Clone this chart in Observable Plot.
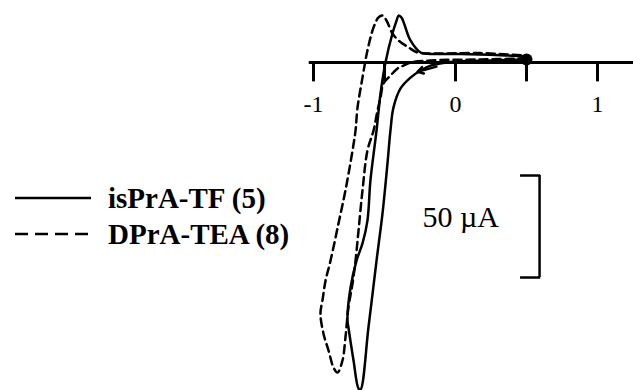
<!DOCTYPE html>
<html>
<head>
<meta charset="utf-8">
<script src="https://cdn.jsdelivr.net/npm/d3@7"></script>
<script src="https://cdn.jsdelivr.net/npm/@observablehq/plot@0.6"></script>
<style>
  body { margin: 0; background: #fff; }
  #wrap { position: relative; width: 633px; height: 390px; overflow: hidden; }
  #legend { position: absolute; left: 15px; top: 180px; font-weight: bold; font-size: 29px; line-height: 36px; }
  #legend div { display: flex; align-items: center; white-space: nowrap; }
  #legend svg { margin-right: 17px; }
</style>
</head>
<body>
<div id="wrap">
  <div id="chart"></div>
  <div id="legend"></div>
</div>
<script>
// Series names
const seriesNames = ["isPrA-TF (5)", "DPrA-TEA (8)"];
const seriesDash = ["none", "8,5"];

// isPrA-TF (5): potential (V) and current (µA), cyclic voltammogram loop
const solidE = [0.50, 0.25, 0.00, -0.07, -0.176, -0.246, -0.317, -0.387, -0.437, -0.458, -0.479, -0.514, -0.556, -0.613, -0.669, -0.683, -0.718, -0.754, -0.761, -0.739, -0.697, -0.655, -0.620, -0.599, -0.556, -0.528, -0.493, -0.444, -0.415, -0.401, -0.380, -0.359, -0.317, -0.246, -0.176, 0.035, 0.317, 0.50];
const solidI = [1.5, 1.0, 0.5, 0.0, -1.5, -3.9, -7.4, -12.7, -22.1, -33.3, -49.5, -74.0, -97.1, -129.9, -160.3, -159.8, -146.1, -129.9, -126.5, -110.3, -97.1, -88.7, -77.5, -57.8, -33.3, -15.2, 0.0, 14.2, 20.5, 23.0, 22.0, 18.5, 10.8, 4.9, 4.2, 4.2, 3.6, 2.9];

// DPrA-TEA (8)
const dashE = [0.50, 0.176, -0.176, -0.317, -0.366, -0.408, -0.458, -0.507, -0.528, -0.549, -0.577, -0.620, -0.655, -0.683, -0.704, -0.725, -0.754, -0.775, -0.796, -0.831, -0.859, -0.894, -0.930, -0.951, -0.937, -0.915, -0.880, -0.824, -0.775, -0.725, -0.704, -0.690, -0.655, -0.620, -0.577, -0.542, -0.514, -0.486, -0.444, -0.401, -0.331, -0.268, -0.176, 0.176, 0.50];
const dashI = [2.0, 1.5, 1.0, 0.0, -1.5, -2.9, -6.4, -10.3, -17.2, -23.5, -33.3, -43.1, -62.7, -82.4, -97.1, -108.3, -120.1, -134.8, -146.1, -152.0, -149.5, -141.2, -132.8, -123.0, -116.7, -106.9, -97.1, -78.9, -62.7, -43.1, -33.3, -22.1, -7.4, 5.9, 17.2, 22.1, 23.0, 20.6, 14.2, 10.8, 7.4, 4.9, 4.4, 4.6, 3.4];

// axis ticks and labels
const tickValues = [-1, -0.5, 0, 0.5, 1];
const tickLabels = [-1, 0, 1];
const axisStart = -1.03;
const axisEnd = 1.26;
const tickLength = 9.5; // µA units below axis

// start point marker
const startE = [0.5];
const startI = [1.5];

// scan-direction arrow
const arrowFrom = {E: -0.134, I: -2.0};
const arrowTo = {E: -0.268, I: -4.6};

// scale bar: 50 µA
const scaleValue = 50;
const scaleLabel = "50 µA";
const scaleE = 0.592;
const scaleEnd = 0.458;
const scaleTop = -55.4;
const labelE = -0.232;

const FONT = '"Times New Roman", "Liberation Serif", monospace';

const solid = solidE.map((e, i) => ({E: e, I: solidI[i]}));
const dashed = dashE.map((e, i) => ({E: e, I: dashI[i]}));

const chart = Plot.plot({
  width: 633,
  height: 390,
  margin: 0,
  x: {domain: [-455 / 142, 178 / 142], axis: null},
  y: {domain: [-328 / 2.04, 62 / 2.04], axis: null},
  style: {fontSize: "24px", background: "white", color: "black"},
  marks: [
    Plot.ruleY([0], {x1: axisStart, x2: axisEnd, stroke: "black", strokeWidth: 3}),
    Plot.ruleX(tickValues, {x: d => d, y1: 0, y2: -tickLength, stroke: "black", strokeWidth: 3}),
    Plot.text(tickLabels, {x: d => d, y: 0, dy: 42, text: d => String(d), fontSize: 24, fill: "black"}),
    Plot.line(dashed, {x: "E", y: "I", stroke: "black", strokeWidth: 2.5, strokeDasharray: seriesDash[1], curve: "catmull-rom"}),
    Plot.line(solid, {x: "E", y: "I", stroke: "black", strokeWidth: 2.5, curve: "catmull-rom"}),
    Plot.dot(startE.map((e, i) => ({E: e, I: startI[i]})), {x: "E", y: "I", r: 6, fill: "black", stroke: "none"}),
    Plot.arrow([{x1: arrowFrom.E, y1: arrowFrom.I, x2: arrowTo.E, y2: arrowTo.I}], {x1: "x1", y1: "y1", x2: "x2", y2: "y2", bend: 0, headLength: 13, strokeWidth: 2.5, stroke: "black"}),
    Plot.ruleX([scaleE], {y1: scaleTop, y2: scaleTop - scaleValue, stroke: "black", strokeWidth: 2.5}),
    Plot.ruleY([scaleTop, scaleTop - scaleValue], {x1: scaleEnd, x2: scaleE + 0.008, stroke: "black", strokeWidth: 2.5}),
    Plot.text([scaleLabel], {x: labelE, y: -76, text: d => d, textAnchor: "start", fontSize: 30, fill: "black"})
  ]
});
chart.style.setProperty("font-family", FONT, "important");
chart.querySelectorAll("text, g").forEach(t => { t.style.setProperty("font-family", FONT, "important"); });
document.getElementById("chart").appendChild(chart);

// legend
const legend = document.getElementById("legend");
legend.style.setProperty("font-family", FONT, "important");
seriesNames.forEach((name, i) => {
  const row = document.createElement("div");
  const dash = seriesDash[i] === "none" ? "" : ` stroke-dasharray="13,7"`;
  row.innerHTML = `<svg width="76" height="10"><line x1="0" y1="5" x2="76" y2="5" stroke="black" stroke-width="2.5"${dash}/></svg><span>${name}</span>`;
  row.querySelector("span").style.setProperty("font-family", FONT, "important");
  legend.appendChild(row);
});
</script>
</body>
</html>
